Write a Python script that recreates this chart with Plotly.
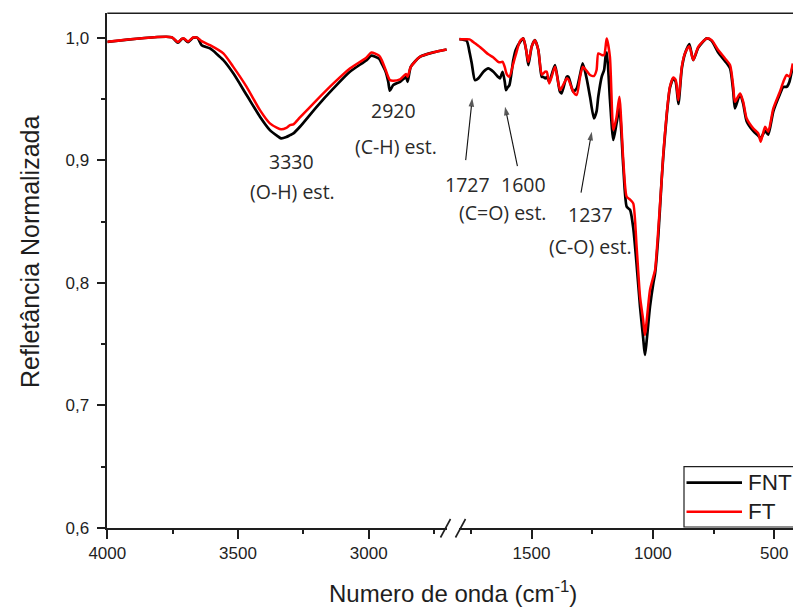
import plotly.graph_objects as go

# ---- spectra: 4000-2700 cm-1 (left panel) ----
wn_high = [4000, 3754, 3730, 3715, 3707, 3691, 3672, 3655, 3639, 3607, 3556, 3518,
           3467, 3416, 3378, 3350, 3335, 3315, 3301, 3288, 3263, 3199, 3135, 3072,
           3008, 2990, 2960, 2950, 2935, 2925, 2919, 2906, 2880, 2857, 2851, 2839,
           2804, 2753, 2702]
fnt_high = [0.9967, 1.0005, 0.9960, 0.9990, 0.9992, 0.9965, 1.0000, 1.0000, 0.9940,
            0.9913, 0.9818, 0.9710, 0.9533, 0.9356, 0.9247, 0.9200, 0.9179, 0.9190,
            0.9206, 0.9220, 0.9274, 0.9437, 0.9587, 0.9723, 0.9818, 0.9855, 0.9830,
            0.9790, 0.9723, 0.9640, 0.9568, 0.9614, 0.9641, 0.9680, 0.9641, 0.9763,
            0.9845, 0.9881, 0.9905]
ft_high = [0.9967, 1.0005, 0.9965, 0.9992, 0.9995, 0.9970, 1.0002, 1.0000, 0.9973,
           0.9940, 0.9873, 0.9763, 0.9600, 0.9410, 0.9302, 0.9265, 0.9253, 0.9265,
           0.9288, 0.9294, 0.9350, 0.9492, 0.9628, 0.9750, 0.9840, 0.9880, 0.9855,
           0.9818, 0.9737, 0.9680, 0.9655, 0.9650, 0.9661, 0.9704, 0.9682, 0.9763,
           0.9845, 0.9881, 0.9905]

# ---- spectra: 1800-420 cm-1 (right panel) ----
wn_low = [1797, 1767, 1755, 1746, 1733, 1719, 1698, 1678, 1657, 1637, 1630, 1619,
          1610, 1605, 1600, 1591, 1575, 1565, 1547, 1534, 1522, 1513, 1499, 1486,
          1472, 1458, 1451, 1444, 1437, 1427, 1417, 1403, 1383, 1376, 1355, 1348,
          1334, 1328, 1314, 1300, 1289, 1273, 1259, 1243, 1232, 1225, 1211, 1201,
          1193, 1190, 1177, 1163, 1150, 1138, 1122, 1108, 1094, 1081, 1067, 1053,
          1040, 1033, 1012, 998, 991, 978, 964, 957, 943, 930, 916, 906, 895, 881,
          868, 850, 834, 813, 778, 758, 731, 703, 682, 669, 662, 641, 628, 614, 587,
          566, 556, 538, 525, 504, 477, 463, 449, 438, 424]
fnt_low = [0.9989, 0.9975, 0.9880, 0.9791, 0.9655, 0.9669, 0.9723, 0.9750, 0.9723,
           0.9680, 0.9669, 0.9723, 0.9640, 0.9573, 0.9590, 0.9614, 0.9818, 0.9900,
           0.9967, 0.9995, 0.9900, 0.9777, 0.9930, 0.9981, 0.9900, 0.9682, 0.9680,
           0.9669, 0.9680, 0.9641, 0.9700, 0.9777, 0.9560, 0.9546, 0.9682, 0.9682,
           0.9590, 0.9560, 0.9587, 0.9700, 0.9791, 0.9669, 0.9519, 0.9343, 0.9400,
           0.9519, 0.9682, 0.9737, 0.9873, 0.9880, 0.9500, 0.9166, 0.9300, 0.9424,
           0.8950, 0.8622, 0.8595, 0.8450, 0.8150, 0.7806, 0.7550, 0.7412, 0.7806,
           0.8000, 0.8078, 0.8377, 0.8839, 0.9040, 0.9370, 0.9590, 0.9670, 0.9640,
           0.9460, 0.9750, 0.9870, 0.9949, 0.9818, 0.9920, 0.9995, 0.9975, 0.9880,
           0.9810, 0.9750, 0.9560, 0.9424, 0.9540, 0.9460, 0.9320, 0.9240, 0.9200,
           0.9180, 0.9240, 0.9210, 0.9400, 0.9540, 0.9600, 0.9600, 0.9640, 0.9770]
ft_low = [0.9989, 0.9989, 0.9987, 0.9975, 0.9955, 0.9935, 0.9900, 0.9865, 0.9840,
          0.9804, 0.9800, 0.9804, 0.9760, 0.9720, 0.9696, 0.9682, 0.9790, 0.9860,
          0.9975, 0.9995, 0.9900, 0.9804, 0.9930, 0.9981, 0.9900, 0.9700, 0.9710,
          0.9723, 0.9723, 0.9628, 0.9682, 0.9763, 0.9573, 0.9590, 0.9669, 0.9660,
          0.9587, 0.9560, 0.9533, 0.9680, 0.9763, 0.9730, 0.9696, 0.9688, 0.9737,
          0.9873, 0.9860, 0.9859, 0.9960, 0.9995, 0.9845, 0.9247, 0.9350, 0.9519,
          0.9002, 0.8703, 0.8680, 0.8649, 0.8295, 0.7887, 0.7697, 0.7575, 0.7942,
          0.8051, 0.8105, 0.8431, 0.8839, 0.9057, 0.9383, 0.9600, 0.9677, 0.9655,
          0.9490, 0.9763, 0.9873, 0.9932, 0.9818, 0.9927, 0.9995, 0.9981, 0.9900,
          0.9832, 0.9777, 0.9600, 0.9478, 0.9546, 0.9478, 0.9343, 0.9261, 0.9220,
          0.9152, 0.9274, 0.9233, 0.9424, 0.9560, 0.9640, 0.9696, 0.9682, 0.9791]

# tick labels
x_major_high = [4000, 3500, 3000]
x_minor_high = [3750, 3250, 2750]
x_major_low = [1500, 1000, 500]
x_minor_low = [1750, 1250, 750]
y_major = [0.6, 0.7, 0.8, 0.9, 1.0]
y_labels = ["0,6", "0,7", "0,8", "0,9", "1,0"]
y_minor = [0.65, 0.75, 0.85, 0.95]

# band assignment arrows: (tail wavenumber, tail value, tip wavenumber, tip value)
band_arrows = [
    (1771, 0.9002, 1744, 0.9508),
    (1558, 0.8953, 1609, 0.9437),
    (1296, 0.8736, 1252, 0.9233),
]

W, H = 793, 608


def px(x):
    return x / W


def py(y):
    return 1 - y / H


AX = "#1e1e1e"
LW = 1.6
SANS = "Liberation Sans, Arial, sans-serif"
TICK_FONT = dict(family=SANS, size=17, color="#1e1e1e")
NOTE_FONT = dict(family="Open Sans, sans-serif", size=19.5, color="#2a2a2a")

fig = go.Figure()

for xs, ys, xa in [(wn_high, fnt_high, "x"), (wn_low, fnt_low, "x2")]:
    fig.add_trace(go.Scatter(x=xs, y=ys, xaxis=xa, yaxis="y", mode="lines", name="FNT",
                             line=dict(color="black", width=2.7, shape="spline", smoothing=0.6),
                             showlegend=False))
for xs, ys, xa in [(wn_high, ft_high, "x"), (wn_low, ft_low, "x2")]:
    fig.add_trace(go.Scatter(x=xs, y=ys, xaxis=xa, yaxis="y", mode="lines", name="FT",
                             line=dict(color="#ff0000", width=2.5, shape="spline", smoothing=0.6),
                             showlegend=False))

# arrows to the carbonyl / C-O bands
for x0, y0, x1, y1 in band_arrows:
    fig.add_trace(go.Scatter(x=[x0, x1], y=[y0, y1], xaxis="x2", yaxis="y", mode="lines+markers",
                             line=dict(color="#111111", width=1.1),
                             marker=dict(symbol="arrow", size=[0, 9], angleref="previous",
                                         color="#111111", line=dict(width=0)),
                             showlegend=False, hoverinfo="skip"))

axis_common = dict(showline=True, linecolor=AX, linewidth=LW, ticks="outside", ticklen=9,
                   tickwidth=LW, tickcolor=AX, showgrid=False, zeroline=False,
                   tickfont=TICK_FONT, automargin=False)
minor_common = dict(ticks="outside", ticklen=4.5, tickwidth=LW, tickcolor=AX, showgrid=False)

fig.update_layout(
    width=W, height=H,
    margin=dict(l=0, r=0, t=0, b=0),
    paper_bgcolor="white", plot_bgcolor="white",
    showlegend=False,
    xaxis=dict(domain=[px(107.3), px(447.1)], range=[4000, 2700], anchor="y",
               tickmode="array", tickvals=x_major_high, ticktext=[str(v) for v in x_major_high],
               minor=dict(tickmode="array", tickvals=x_minor_high, **minor_common),
               **axis_common),
    xaxis2=dict(domain=[px(459.0), 1.0], range=[1798.6, 423], anchor="y",
                tickmode="array", tickvals=x_major_low, ticktext=[str(v) for v in x_major_low],
                minor=dict(tickmode="array", tickvals=x_minor_low, **minor_common),
                **axis_common),
    yaxis=dict(domain=[1 - 528 / H, 1 - 13.3 / H], range=[0.6, 1.02], anchor="x",
               tickmode="array", tickvals=y_major, ticktext=y_labels,
               minor=dict(tickmode="array", tickvals=y_minor, **minor_common),
               ticklabelstandoff=4,
               **axis_common),
)

shapes = [
    # top frame line
    dict(type="line", xref="paper", yref="paper", x0=px(107.3), x1=1.01, y0=py(13.3), y1=py(13.3),
         line=dict(color=AX, width=LW)),
    # axis break marks
    dict(type="line", xref="paper", yref="paper", x0=px(440.5), y0=py(537.5), x1=px(450.5), y1=py(519),
         line=dict(color=AX, width=LW)),
    dict(type="line", xref="paper", yref="paper", x0=px(455.5), y0=py(537.5), x1=px(465.5), y1=py(519),
         line=dict(color=AX, width=LW)),
    # legend frame and samples
    dict(type="rect", xref="paper", yref="paper", x0=px(684), x1=1.05, y0=py(527), y1=py(466.7),
         line=dict(color=AX, width=1.2), fillcolor="white"),
    dict(type="line", xref="paper", yref="paper", x0=px(686.5), x1=px(742), y0=py(482.7), y1=py(482.7),
         line=dict(color="black", width=2.7)),
    dict(type="line", xref="paper", yref="paper", x0=px(686.5), x1=px(742), y0=py(511.7), y1=py(511.7),
         line=dict(color="#ff0000", width=2.5)),
]
fig.update_layout(shapes=shapes)

ann = []
# axis titles
ann.append(dict(text="Refletância Normalizada", xref="paper", yref="paper", x=px(30), y=py(252),
                textangle=-90, showarrow=False, xanchor="center", yanchor="middle",
                font=dict(family=SANS, size=25, color="#1e1e1e")))
ann.append(dict(text="Numero de onda (cm<sup>-1</sup>)", xref="paper", yref="paper", x=px(453), y=py(592),
                showarrow=False, xanchor="center", yanchor="middle",
                font=dict(family=SANS, size=24, color="#1e1e1e")))
# legend text
ann.append(dict(text="FNT", xref="paper", yref="paper", x=px(746), y=py(482.7), showarrow=False,
                xanchor="left", yanchor="middle", font=dict(family=SANS, size=22.5, color="#1e1e1e")))
ann.append(dict(text="FT", xref="paper", yref="paper", x=px(746), y=py(511.7), showarrow=False,
                xanchor="left", yanchor="middle", font=dict(family=SANS, size=22.5, color="#1e1e1e")))

# band assignments
band_notes = [
    ("3330", "x", 3295, 0.8994), ("(O-H) est.", "x", 3293, 0.8744),
    ("2920", "x", 2906, 0.9405), ("(C-H) est.", "x", 2896, 0.9117),
    ("1727", "x2", 1764, 0.8799), ("1600", "x2", 1535, 0.8799),
    ("(C=O) est.", "x2", 1619, 0.8578),
    ("1237", "x2", 1259, 0.8562), ("(C-O) est.", "x2", 1259, 0.8300),
]
for txt, xr, xv, yv in band_notes:
    ann.append(dict(text=txt, xref=xr, yref="y", x=xv, y=yv, showarrow=False,
                    xanchor="center", yanchor="middle", font=NOTE_FONT))

fig.update_layout(annotations=ann)

fig.write_html("out.html")
